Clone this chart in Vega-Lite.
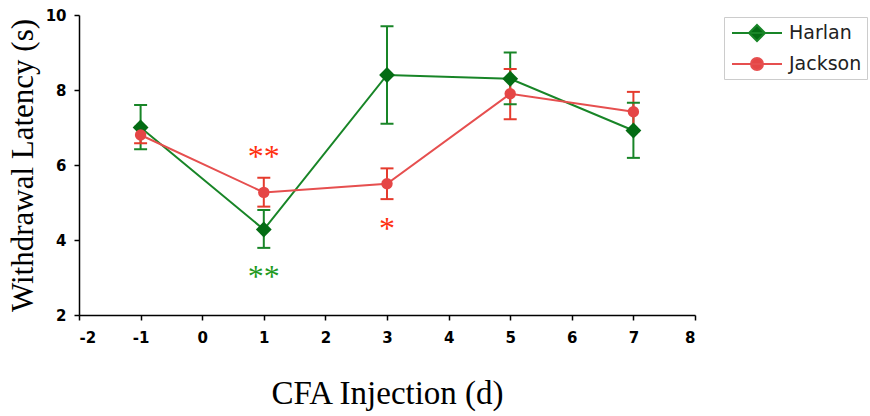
{
  "$schema": "https://vega.github.io/schema/vega-lite/v6.json",
  "width": 616,
  "height": 300,
  "autosize": "none",
  "padding": {"left": 79, "top": 15, "right": 175, "bottom": 101},
  "background": "white",
  "config": {
    "view": {"stroke": null},
    "axis": {
      "grid": false,
      "domainColor": "black",
      "domainWidth": 1.5,
      "tickColor": "black",
      "tickWidth": 1.5,
      "tickSize": 5,
      "labelFont": "DejaVu Sans",
      "labelFontWeight": "bold",
      "labelFontSize": 15,
      "labelColor": "black",
      "titleFont": "Liberation Serif",
      "titleFontWeight": "normal",
      "titleColor": "black"
    }
  },
  "datasets": {
    "main": [
      {"series": "Harlan", "day": -1, "mean": 7.0, "lo": 6.42, "hi": 7.6},
      {"series": "Harlan", "day": 1, "mean": 4.28, "lo": 3.79, "hi": 4.8},
      {"series": "Harlan", "day": 3, "mean": 8.4, "lo": 7.1, "hi": 9.7},
      {"series": "Harlan", "day": 5, "mean": 8.3, "lo": 7.62, "hi": 9.0},
      {"series": "Harlan", "day": 7, "mean": 6.92, "lo": 6.19, "hi": 7.66},
      {"series": "Jackson", "day": -1, "mean": 6.8, "lo": 6.58, "hi": 7.02},
      {"series": "Jackson", "day": 1, "mean": 5.27, "lo": 4.89, "hi": 5.66},
      {"series": "Jackson", "day": 3, "mean": 5.5, "lo": 5.09, "hi": 5.91},
      {"series": "Jackson", "day": 5, "mean": 7.9, "lo": 7.22, "hi": 8.56},
      {"series": "Jackson", "day": 7, "mean": 7.42, "lo": 6.9, "hi": 7.95}
    ],
    "stars": [
      {"series": "Jackson", "day": 1, "y": 6.32, "label": "**"},
      {"series": "Harlan", "day": 1, "y": 3.12, "label": "**"},
      {"series": "Jackson", "day": 3, "y": 4.4, "label": "*"}
    ]
  },
  "data": {"name": "main"},
  "resolve": {"scale": {"color": "independent"}, "legend": {"color": "independent"}},
  "encoding": {
    "x": {
      "field": "day", "type": "quantitative",
      "scale": {"domain": [-2, 8], "nice": false, "zero": false},
      "axis": {"values": [-2, -1, 0, 1, 2, 3, 4, 5, 6, 7, 8], "labelExpr": "'' + datum.value", "title": "CFA Injection (d)", "titleFontSize": 33, "titlePadding": 32, "labelPadding": 10}
    }
  },
  "layer": [
    {
      "mark": {"type": "line", "strokeWidth": 2},
      "encoding": {
        "y": {
          "field": "mean", "type": "quantitative",
          "scale": {"domain": [2, 10], "nice": false, "zero": false},
          "axis": {"values": [2, 4, 6, 8, 10], "title": "Withdrawal Latency (s)", "titleFontSize": 31, "titlePadding": 6, "labelPadding": 8}
        },
        "color": {
          "field": "series", "type": "nominal",
          "scale": {"domain": ["Harlan", "Jackson"], "range": ["#188527", "#e64f4f"]},
          "legend": {
            "title": null,
            "orient": "none",
            "legendX": 645,
            "legendY": 2,
            "strokeColor": "#cccccc",
            "padding": 5,
            "labelFont": "DejaVu Sans",
            "labelFontSize": 19,
            "labelColor": "#222222",
            "symbolSize": 400,
            "symbolOffset": 17,
            "rowPadding": 8,
            "labelOffset": 21,
            "encode": {
              "symbols": {
                "update": {
                  "shape": {"signal": "datum.value === 'Harlan' ? 'M-2.5,0L2.5,0M0,-0.8L0.8,0L0,0.8L-0.8,0Z' : 'M-2.5,0L2.5,0M0.6,0A0.6,0.6,0,1,1,-0.6,0A0.6,0.6,0,1,1,0.6,0Z'"},
                  "fill": {"signal": "datum.value === 'Harlan' ? '#046c14' : '#e54646'"},
                  "stroke": {"signal": "datum.value === 'Harlan' ? '#188527' : '#e64f4f'"},
                  "strokeWidth": {"value": 2},
                  "opacity": {"value": 1},
                  "fillOpacity": {"value": 1},
                  "strokeOpacity": {"value": 1}
                }
              }
            }
          }
        }
      }
    },
    {
      "mark": {"type": "rule", "strokeWidth": 2},
      "encoding": {
        "y": {"field": "lo", "type": "quantitative"},
        "y2": {"field": "hi"},
        "color": {"field": "series", "type": "nominal", "scale": {"domain": ["Harlan", "Jackson"], "range": ["#188527", "#e53b2d"]}, "legend": null}
      }
    },
    {
      "mark": {"type": "tick", "orient": "horizontal", "size": 13, "thickness": 2, "opacity": 1},
      "encoding": {
        "y": {"field": "lo", "type": "quantitative"},
        "color": {"field": "series", "type": "nominal", "scale": {"domain": ["Harlan", "Jackson"], "range": ["#188527", "#e53b2d"]}, "legend": null}
      }
    },
    {
      "mark": {"type": "tick", "orient": "horizontal", "size": 13, "thickness": 2, "opacity": 1},
      "encoding": {
        "y": {"field": "hi", "type": "quantitative"},
        "color": {"field": "series", "type": "nominal", "scale": {"domain": ["Harlan", "Jackson"], "range": ["#188527", "#e53b2d"]}, "legend": null}
      }
    },
    {
      "mark": {"type": "point", "filled": true, "opacity": 1},
      "encoding": {
        "y": {"field": "mean", "type": "quantitative"},
        "color": {"field": "series", "type": "nominal", "scale": {"domain": ["Harlan", "Jackson"], "range": ["#046c14", "#e54646"]}, "legend": null},
        "shape": {"field": "series", "type": "nominal", "scale": {"domain": ["Harlan", "Jackson"], "range": ["diamond", "circle"]}, "legend": null},
        "size": {"field": "series", "type": "nominal", "scale": {"domain": ["Harlan", "Jackson"], "range": [250, 130]}, "legend": null}
      }
    },
    {
      "data": {"name": "stars"},
      "transform": [{"filter": "datum.series === 'Jackson'"}],
      "mark": {"type": "text", "font": "Liberation Serif", "fontSize": 32, "color": "#ff3010", "baseline": "alphabetic", "dy": 14},
      "encoding": {
        "y": {"field": "y", "type": "quantitative"},
        "text": {"field": "label"}
      }
    },
    {
      "data": {"name": "stars"},
      "transform": [{"filter": "datum.series === 'Harlan'"}],
      "mark": {"type": "text", "font": "Liberation Serif", "fontSize": 32, "color": "#1f9a1f", "baseline": "alphabetic", "dy": 14},
      "encoding": {
        "y": {"field": "y", "type": "quantitative"},
        "text": {"field": "label"}
      }
    }
  ]
}
